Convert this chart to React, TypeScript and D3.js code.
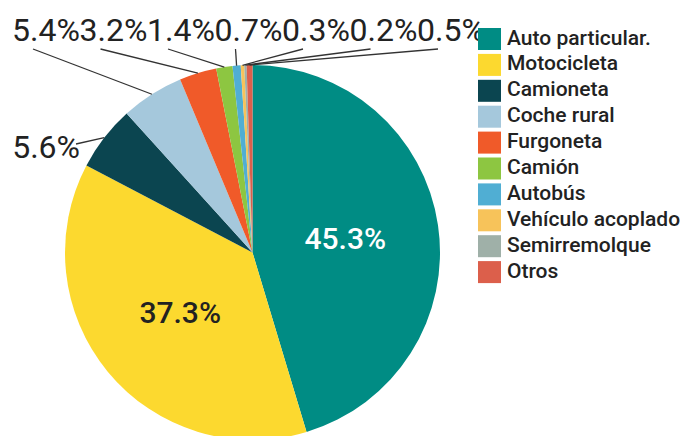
import React from "react";
import * as d3 from "d3";

const categories = [
  "Auto particular.",
  "Motocicleta",
  "Camioneta",
  "Coche rural",
  "Furgoneta",
  "Camión",
  "Autobús",
  "Vehículo acoplado",
  "Semirremolque",
  "Otros",
];
const values = [45.3, 37.3, 5.6, 5.4, 3.2, 1.4, 0.7, 0.3, 0.2, 0.5];
const colors = [
  "#008c84",
  "#fcd92f",
  "#0b4550",
  "#a5c8dc",
  "#f05a29",
  "#8dc641",
  "#50aed3",
  "#f7c35a",
  "#9fb0a8",
  "#dc5f4b",
];
// which labels sit inside the slice; others go outside with leader lines
const insideLabels = [0, 1];
const topRowLabels = [3, 4, 5, 6, 7, 8, 9];
const sideLabels = [2];

const W = 690;
const H = 436;
const FONT = "Roboto, 'Noto Sans', sans-serif";

export default function App() {
  const cx = 252.5;
  const cy = 252.5;
  const r = 187.5;

  const pie = d3
    .pie<number>()
    .sort(null)
    .value((d) => d)
    .startAngle(0)
    .endAngle(2 * Math.PI);
  const arcs = pie(values);
  const arc = d3.arc<d3.PieArcDatum<number>>().innerRadius(0).outerRadius(r);
  const outerPt = (a: d3.PieArcDatum<number>) => {
    const m = (a.startAngle + a.endAngle) / 2;
    return [cx + r * Math.sin(m), cy - r * Math.cos(m)];
  };
  const fmt = (v: number) => `${v.toFixed(1)}%`;

  const rowX0 = 12;
  const rowStep = 67.5;
  const rowBaseline = 41;
  const lineY = 49;

  const legendX = 478;
  const legendY = 28;
  const legendStep = 25.9;
  const sq = 22;

  return (
    <svg
      width={W}
      height={H}
      style={{ position: "absolute", left: 0, top: 0, background: "#fff" }}
      fontFamily={FONT}
    >
      <g>
        {arcs.map((a, i) => (
          <path
            key={categories[i]}
            d={arc(a) || ""}
            transform={`translate(${cx},${cy})`}
            fill={colors[i]}
          />
        ))}
      </g>
      {insideLabels.map((i) => {
        const [x, y] = arc.centroid(arcs[i]);
        return (
          <text
            key={"in" + i}
            x={cx + x}
            y={cy + y}
            textAnchor="middle"
            dominantBaseline="central"
            fontSize={30}
            fontWeight={500}
            fill={i === 0 ? "#ffffff" : "#222222"}
          >
            {fmt(values[i])}
          </text>
        );
      })}
      {topRowLabels.map((i, k) => {
        const lx = rowX0 + k * rowStep;
        const [ex, ey] = outerPt(arcs[i]);
        return (
          <g key={"top" + i}>
            <line
              x1={lx + 21}
              y1={lineY}
              x2={ex}
              y2={ey}
              stroke="#333"
              strokeWidth={1.3}
            />
            <text x={lx} y={rowBaseline} fontSize={32} fill="#222">
              {fmt(values[i])}
            </text>
          </g>
        );
      })}
      {sideLabels.map((i) => {
        const [ex, ey] = outerPt(arcs[i]);
        return (
          <g key={"side" + i}>
            <line x1={76} y1={144} x2={ex} y2={ey} stroke="#333" strokeWidth={1.3} />
            <text x={80} y={158} textAnchor="end" fontSize={32} fill="#222">
              {fmt(values[i])}
            </text>
          </g>
        );
      })}
      <g>
        {categories.map((c, i) => (
          <g key={"lg" + c} transform={`translate(${legendX},${legendY + i * legendStep})`}>
            <rect width={sq + 1} height={sq} fill={colors[i]} />
            <text x={29} y={16.5} fontSize={21} fontWeight={500} fill="#222">
              {c}
            </text>
          </g>
        ))}
      </g>
    </svg>
  );
}
